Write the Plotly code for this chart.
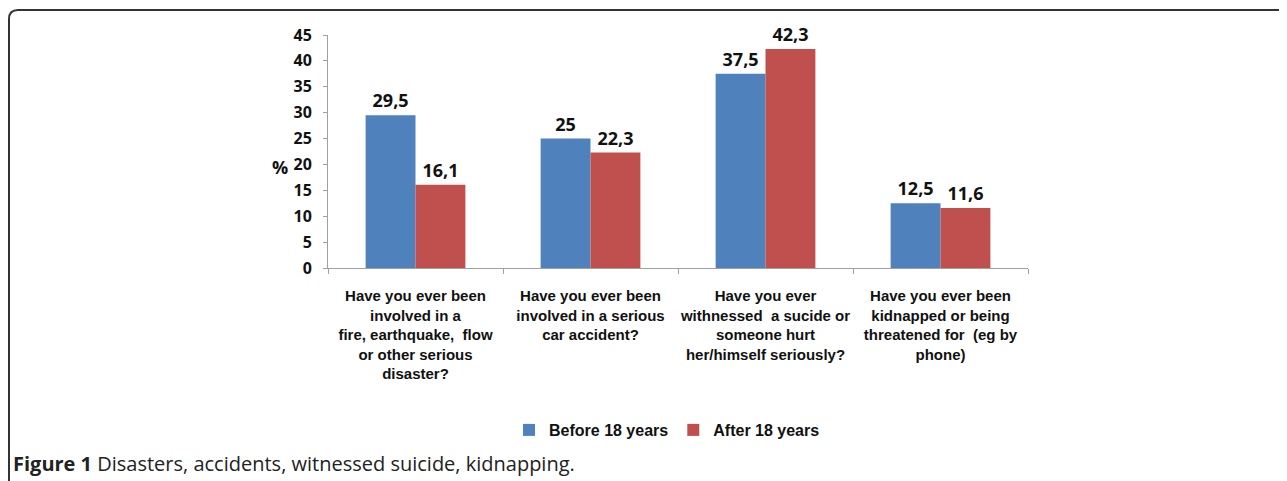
import plotly.graph_objects as go

categories = [
    "Have you ever been<br>involved in a<br>fire, earthquake,  flow<br>or other serious<br>disaster?",
    "Have you ever been<br>involved in a serious<br>car accident?",
    "Have you ever<br>withnessed  a sucide or<br>someone hurt<br>her/himself seriously?",
    "Have you ever been<br>kidnapped or being<br>threatened for  (eg by<br>phone)",
]
before_18 = [29.5, 25, 37.5, 12.5]
after_18 = [16.1, 22.3, 42.3, 11.6]
series_names = ["Before 18 years", "After 18 years"]
y_ticks = [0, 5, 10, 15, 20, 25, 30, 35, 40, 45]

BLUE = "#4F81BD"
RED = "#C0504D"

def fmt(v):
    return f"{v:g}".replace(".", ",")

OFF = 8  # page body margin
PW, PH = 1287, 481
W, H = PW - OFF, PH - OFF
# plot area in page pixels
PL, PR, PT, PB = 328, 1028, 35, 268
L, R, T, B = PL - OFF, W - (PR - OFF), PT - OFF, H - (PB - OFF)
pw, ph = PR - PL, PB - PT

def px(x):
    return (x - PL) / pw

def py(y):
    return (PB - y) / ph

CAT_FONT = "Liberation Sans, Arial, sans-serif"

fig = go.Figure()
for name, vals, col in [(series_names[0], before_18, BLUE), (series_names[1], after_18, RED)]:
    fig.add_trace(go.Bar(
        x=categories, y=vals, name=f"<b>{name}</b>", marker=dict(color=col, line=dict(width=0)),
        text=[fmt(v) for v in vals], textposition="outside", cliponaxis=False,
        textfont=dict(family="Open Sans, Liberation Sans, sans-serif", size=18, color="#111"),
        texttemplate="<b>%{text}</b>",
    ))

fig.update_layout(
    width=W, height=H,
    margin=dict(l=L, r=R, t=T, b=B, autoexpand=False),
    paper_bgcolor="white", plot_bgcolor="white",
    barmode="group", bargap=0.43, bargroupgap=0,
    showlegend=True,
    legend=dict(orientation="h", x=px(667), xanchor="center", y=py(430), yanchor="middle",
                font=dict(family=CAT_FONT, size=16, color="#111"),
                itemwidth=30, traceorder="normal"),
    font=dict(family=CAT_FONT, color="#111"),
)
fig.update_xaxes(
    tickvals=categories, ticktext=[f"<b>{c}</b>".replace("<br>", "</b><br><b>") for c in categories],
    showline=True, linecolor="#A0A0A0", linewidth=1,
    ticks="outside", tickson="boundaries", ticklen=5, tickcolor="#A0A0A0",
    tickfont=dict(family=CAT_FONT, size=15, color="#111"),
    ticklabelstandoff=14,
    tickangle=0, showgrid=False, fixedrange=True,
)
fig.update_yaxes(
    range=[0, 45], tickvals=y_ticks, ticktext=[f"<b>{t}</b>" for t in y_ticks],
    showline=True, linecolor="#A0A0A0", linewidth=1,
    ticks="outside", ticklen=4, tickcolor="#A0A0A0",
    ticklabelstandoff=8,
    tickfont=dict(family="Open Sans, Liberation Sans, sans-serif", size=16, color="#111"),
    showgrid=False, zeroline=False,
)

fig.add_annotation(x=px(290), y=py(167), xref="paper", yref="paper", xanchor="right",
                   text="<b>%</b>", showarrow=False,
                   font=dict(family="Open Sans, Liberation Sans, sans-serif", size=18, color="#111"))
fig.add_annotation(x=px(11), y=py(463), xref="paper", yref="paper", xanchor="left", yanchor="middle",
                   text="<b>Figure 1</b> Disasters, accidents, witnessed suicide, kidnapping.",
                   showarrow=False, font=dict(family="Open Sans, Liberation Sans, sans-serif", size=20, color="#222"))

# rounded border (left + top)
r = 9
x0, y0 = 9, 10
path = (f"M {px(x0)},{py(PH + 5)} L {px(x0)},{py(y0 + r)} "
        f"Q {px(x0)},{py(y0)} {px(x0 + r)},{py(y0)} L {px(PW + 5)},{py(y0)}")
fig.add_shape(type="path", path=path, xref="paper", yref="paper",
              line=dict(color="#333333", width=2))

fig.write_html("out.html")
